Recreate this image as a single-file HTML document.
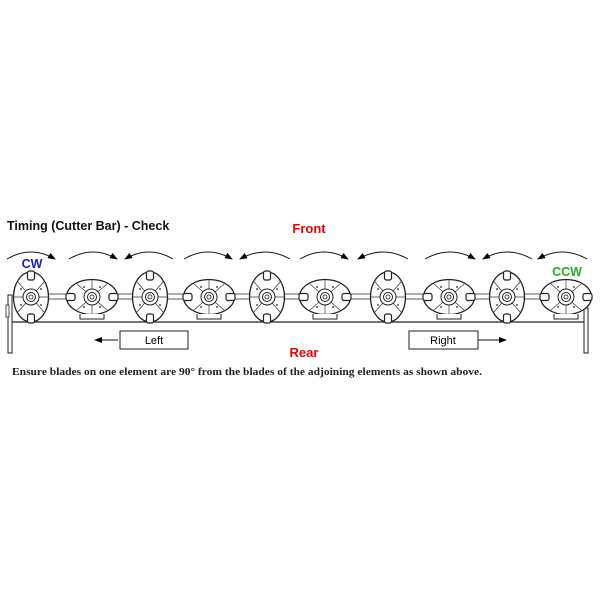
<!DOCTYPE html>
<html><head><meta charset="utf-8"><style>
html,body{margin:0;padding:0;background:#fff;width:600px;height:600px;overflow:hidden}
svg{display:block}
</style></head><body>
<svg width="600" height="600" viewBox="0 0 600 600" xmlns="http://www.w3.org/2000/svg">
<defs>
<marker id="ah" markerWidth="8" markerHeight="6" refX="7" refY="3" orient="auto" markerUnits="userSpaceOnUse">
<path d="M0,0 L8,3 L0,6 Z" fill="#000"/></marker>
<g id="dv">
<ellipse cx="0" cy="0" rx="17.5" ry="25" fill="#fff" stroke="#222" stroke-width="1.3"/>
<line x1="-17" y1="0" x2="17" y2="0" stroke="#333" stroke-width="0.7"/>
<line x1="-13" y1="-15" x2="13" y2="15" stroke="#333" stroke-width="0.7"/>
<line x1="13" y1="-15" x2="-13" y2="15" stroke="#333" stroke-width="0.7"/>
<circle r="8" fill="#fff" stroke="#222" stroke-width="1"/>
<circle r="4.5" fill="#fff" stroke="#222" stroke-width="1"/>
<circle r="2" fill="#fff" stroke="#222" stroke-width="0.8"/>
<rect x="-3.5" y="-26" width="7" height="9" rx="2" fill="#fff" stroke="#222" stroke-width="1.2"/>
<rect x="-3.5" y="17" width="7" height="9" rx="2" fill="#fff" stroke="#222" stroke-width="1.2"/>
<circle cx="-10" cy="-8" r="0.9" fill="#222"/><circle cx="10" cy="-8" r="0.9" fill="#222"/>
<circle cx="-10" cy="8" r="0.9" fill="#222"/><circle cx="10" cy="8" r="0.9" fill="#222"/>
</g>
<g id="dh">
<ellipse cx="0" cy="0" rx="25.5" ry="17.5" fill="#fff" stroke="#222" stroke-width="1.3"/>
<line x1="0" y1="-17" x2="0" y2="17" stroke="#333" stroke-width="0.7"/>
<line x1="-15" y1="-13" x2="15" y2="13" stroke="#333" stroke-width="0.7"/>
<line x1="15" y1="-13" x2="-15" y2="13" stroke="#333" stroke-width="0.7"/>
<circle r="8" fill="#fff" stroke="#222" stroke-width="1"/>
<circle r="4.5" fill="#fff" stroke="#222" stroke-width="1"/>
<circle r="2" fill="#fff" stroke="#222" stroke-width="0.8"/>
<rect x="-26" y="-3.5" width="9" height="7" rx="2" fill="#fff" stroke="#222" stroke-width="1.2"/>
<rect x="17" y="-3.5" width="9" height="7" rx="2" fill="#fff" stroke="#222" stroke-width="1.2"/>
<circle cx="-8" cy="-10" r="0.9" fill="#222"/><circle cx="8" cy="-10" r="0.9" fill="#222"/>
<circle cx="-8" cy="10" r="0.9" fill="#222"/><circle cx="8" cy="10" r="0.9" fill="#222"/>
<path d="M-12,17 L-12,22 L12,22 L12,17" fill="#fff" stroke="#222" stroke-width="1"/>
</g>
</defs>
<line x1="12" y1="322" x2="586" y2="322" stroke="#222" stroke-width="1.3"/>
<rect x="8" y="295" width="4" height="58" fill="#fff" stroke="#222" stroke-width="1"/>
<rect x="6" y="305" width="3" height="12" fill="#fff" stroke="#222" stroke-width="0.8"/>
<rect x="584" y="308" width="4" height="45" fill="#fff" stroke="#222" stroke-width="1"/>
<rect x="40" y="294" width="510" height="5" fill="#fff" stroke="#333" stroke-width="0.8"/>
<use href="#dv" x="31" y="297"/>
<use href="#dh" x="92" y="297"/>
<use href="#dv" x="150" y="297"/>
<use href="#dh" x="209" y="297"/>
<use href="#dv" x="267" y="297"/>
<use href="#dh" x="325" y="297"/>
<use href="#dv" x="388" y="297"/>
<use href="#dh" x="449" y="297"/>
<use href="#dv" x="507" y="297"/>
<use href="#dh" x="566" y="297"/>
<g fill="none" stroke="#111" stroke-width="1">
<path d="M7,259 Q31,245 55,259" marker-end="url(#ah)"/>
<path d="M69,259 Q93,245 117,259" marker-end="url(#ah)"/>
<path d="M173,259 Q149,245 125,259" marker-end="url(#ah)"/>
<path d="M184,259 Q208,245 232,259" marker-end="url(#ah)"/>
<path d="M290,259 Q265,245 240,259" marker-end="url(#ah)"/>
<path d="M300,259 Q324,245 348,259" marker-end="url(#ah)"/>
<path d="M408,259 Q383,245 358,259" marker-end="url(#ah)"/>
<path d="M425,259 Q450,245 475,259" marker-end="url(#ah)"/>
<path d="M532,259 Q507,245 483,259" marker-end="url(#ah)"/>
<path d="M587,259 Q562,245 538,259" marker-end="url(#ah)"/>
</g>
<rect x="120" y="331" width="68" height="18" fill="#fff" stroke="#222" stroke-width="1"/>
<text x="154" y="344" font-family="Liberation Sans, sans-serif" font-size="11" text-anchor="middle">Left</text>
<line x1="118" y1="340" x2="95" y2="340" stroke="#111" stroke-width="1" marker-end="url(#ah)"/>
<rect x="409" y="331" width="69" height="18" fill="#fff" stroke="#222" stroke-width="1"/>
<text x="443" y="344" font-family="Liberation Sans, sans-serif" font-size="11" text-anchor="middle">Right</text>
<line x1="478" y1="340" x2="506" y2="340" stroke="#111" stroke-width="1" marker-end="url(#ah)"/>
<text x="7" y="230" font-family="Liberation Sans, sans-serif" font-size="12.5" font-weight="bold" fill="#111">Timing (Cutter Bar) - Check</text>
<text x="309" y="233" font-family="Liberation Sans, sans-serif" font-size="13" font-weight="bold" fill="#e00" text-anchor="middle">Front</text>
<text x="32" y="268" font-family="Liberation Sans, sans-serif" font-size="12.5" font-weight="bold" fill="#1a1ad0" text-anchor="middle">CW</text>
<text x="567" y="276" font-family="Liberation Sans, sans-serif" font-size="12.5" font-weight="bold" fill="#1fb01f" text-anchor="middle">CCW</text>
<text x="304" y="357" font-family="Liberation Sans, sans-serif" font-size="13" font-weight="bold" fill="#e00" text-anchor="middle">Rear</text>
<text x="12" y="375" font-family="Liberation Serif, serif" font-size="10.5" font-weight="bold" fill="#222" textLength="470" lengthAdjust="spacingAndGlyphs">Ensure blades on one element are 90° from the blades of the adjoining elements as shown above.</text>
</svg>
</body></html>
